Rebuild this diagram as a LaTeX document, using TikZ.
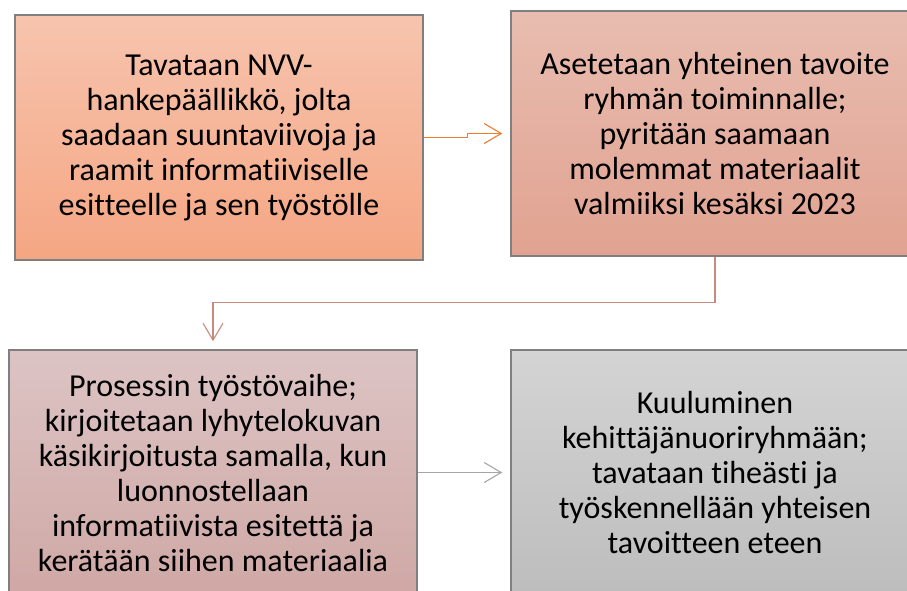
\documentclass[tikz,border=0pt]{standalone}
\usepackage{fontspec}
\setmainfont[Ligatures=NoCommon]{Carlito}
\usetikzlibrary{arrows.meta,positioning}
\definecolor{peachtop}{HTML}{F7C4AE}
\definecolor{peachbot}{HTML}{F5A683}
\definecolor{rosetop}{HTML}{E8BDB0}
\definecolor{rosebot}{HTML}{E1A291}
\definecolor{mauvetop}{HTML}{DCC4C4}
\definecolor{mauvebot}{HTML}{CFA8A5}
\definecolor{greytop}{HTML}{D4D4D4}
\definecolor{greybot}{HTML}{BDBDBD}
\definecolor{edgegrey}{HTML}{7F7F7F}
\definecolor{arrorange}{HTML}{ED7D31}
\definecolor{arrrose}{HTML}{C98A7E}
\definecolor{arrgrey}{HTML}{A6A6A6}
\tikzset{phase/.style={rectangle,draw=edgegrey,line width=1.5pt,
        minimum width=408pt,minimum height=245pt,align=center,
        font=\fontsize{32}{35}\selectfont}}
\tikzset{flow/.style={line width=1.1pt,shorten >=8pt,
        -{Straight Barb[length=17pt,width=20pt,line width=1.1pt]}}}

\begin{document}
\begin{tikzpicture}[x=1pt,y=-1pt]
    \useasboundingbox (0,0) rectangle (907,590);
    \clip (0,0) rectangle (907,590);
        \node[phase,top color=peachtop,bottom color=peachbot] (meet) at (219,137.5)
            {Tavataan NVV-\\hankepäällikkö, jolta\\saadaan suuntaviivoja ja\\raamit informatiiviselle\\esitteelle ja sen työstölle};
        \node[phase,top color=rosetop,bottom color=rosebot] (goal) at (715,133.5)
            {Asetetaan yhteinen tavoite\\ryhmän toiminnalle;\\pyritään saamaan\\molemmat materiaalit\\valmiiksi kesäksi 2023};
        \node[phase,top color=mauvetop,bottom color=mauvebot] (work) at (213,472.5)
            {Prosessin työstövaihe;\\kirjoitetaan lyhytelokuvan\\käsikirjoitusta samalla, kun\\luonnostellaan\\informatiivista esitettä ja\\kerätään siihen materiaalia};
        \node[phase,top color=greytop,bottom color=greybot] (group) at (715,472.5)
            {Kuuluminen\\kehittäjänuoriryhmään;\\tavataan tiheästi ja\\työskennellään yhteisen\\tavoitteen eteen};

        \draw[flow,arrorange] (meet.east) -- ++(44,0) |- (goal.west);
        \draw[flow,arrrose] (goal.south) -- ++(0,46) -| (work.north);
        \draw[flow,arrgrey] (work.east) -- (group.west);
    \end{tikzpicture}
\end{document}
